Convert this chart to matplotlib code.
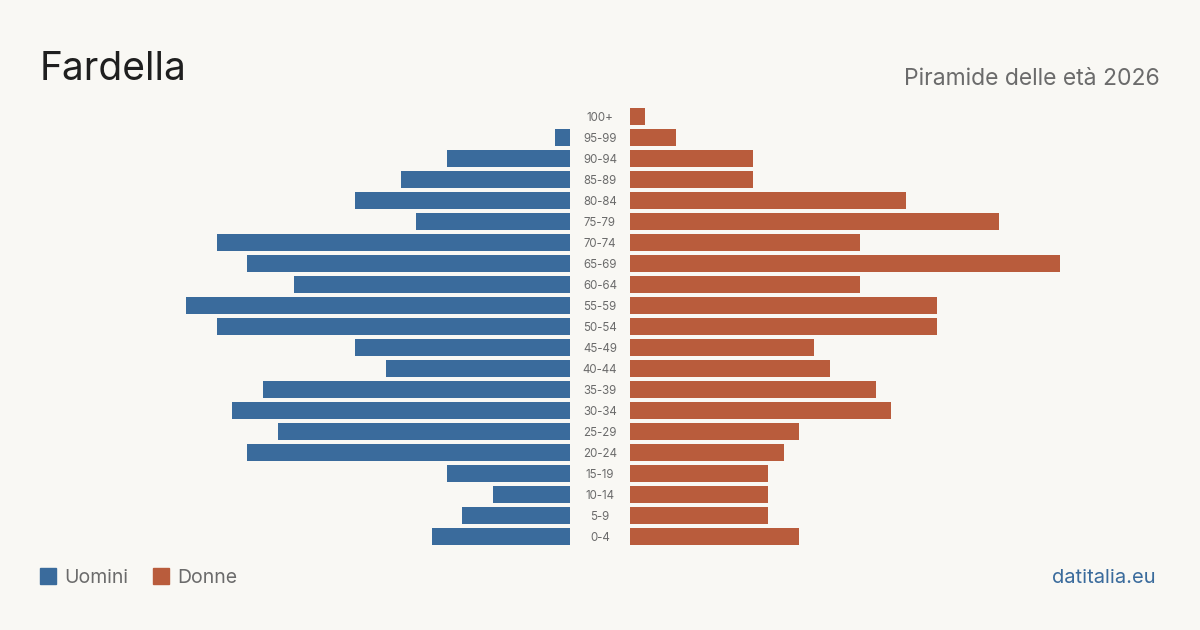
import matplotlib
matplotlib.use("Agg")
import matplotlib.pyplot as plt
from matplotlib.patches import Rectangle

age_groups = ["0-4", "5-9", "10-14", "15-19", "20-24", "25-29", "30-34", "35-39",
              "40-44", "45-49", "50-54", "55-59", "60-64", "65-69", "70-74",
              "75-79", "80-84", "85-89", "90-94", "95-99", "100+"]
men = [9, 7, 5, 8, 21, 19, 22, 20, 12, 14, 23, 25, 18, 21, 23, 10, 14, 11, 8, 1, 0]
women = [11, 9, 9, 9, 10, 11, 17, 16, 13, 12, 20, 20, 15, 28, 15, 24, 18, 8, 8, 3, 1]

BG = "#f9f8f4"
BLUE = "#3a6b9c"
ORANGE = "#b95c3c"
GRAY = "#6b6b6b"
FONT = ["Inter", "DejaVu Sans"]
plt.rcParams["font.family"] = FONT

W, H = 1200, 630
fig = plt.figure(figsize=(W / 100, H / 100), dpi=100, facecolor=BG)

def px_axes(x0, x1, y_top, y_bot):
    return fig.add_axes([x0 / W, 1 - y_bot / H, (x1 - x0) / W, (y_bot - y_top) / H])

y_top, y_bot = 106, 547
xmax = 530 / 15.36
axL = px_axes(40, 570, y_top, y_bot)
axR = px_axes(630, 1160, y_top, y_bot)
ypos = list(range(len(age_groups)))
axL.barh(ypos, men, height=0.81, color=BLUE)
axR.barh(ypos, women, height=0.81, color=ORANGE)
axL.set_xlim(xmax, 0)
axR.set_xlim(0, xmax)
for ax in (axL, axR):
    ax.set_ylim(-0.5, len(age_groups) - 0.5)
    ax.axis("off")
    ax.set_facecolor("none")

for i, lab in enumerate(age_groups):
    y = 538 - 21 * i
    fig.text(600 / W, 1 - y / H, lab, ha="center", va="center",
             fontsize=8.3, color=GRAY)

fig.text(40 / W, 1 - 80 / H, "Fardella", ha="left", va="baseline",
         fontsize=28, color="#1f1f1f")
fig.text(1160 / W, 1 - 85 / H, "Piramide delle età 2026", ha="right",
         va="baseline", fontsize=16.5, color=GRAY)

# legend
for x0, col, lab in [(40, BLUE, "Uomini"), (153, ORANGE, "Donne")]:
    fig.patches.append(Rectangle((x0 / W, 1 - 584 / H), 16 / W, 16 / H,
                                 transform=fig.transFigure, color=col))
    fig.text((x0 + 24) / W, 1 - 583 / H, lab, ha="left", va="baseline",
             fontsize=14, color=GRAY)

fig.text(1156 / W, 1 - 583 / H, "datitalia.eu", ha="right", va="baseline",
         fontsize=14.5, color=BLUE)

fig.savefig("out.png", dpi=100, facecolor=BG)
